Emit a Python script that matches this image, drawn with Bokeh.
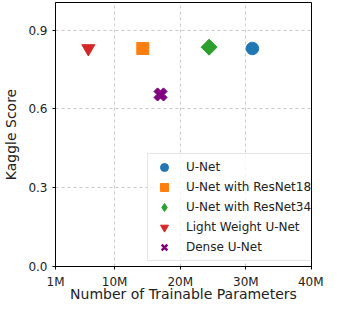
import math
from bokeh.plotting import figure
from bokeh.models import Range1d, FixedTicker, Legend, LegendItem, ColumnDataSource
from bokeh.embed import file_html
from bokeh.resources import INLINE

models = ["U-Net", "U-Net with ResNet18", "U-Net with ResNet34", "Light Weight U-Net", "Dense U-Net"]
params_m = [31.0, 14.3, 24.4, 6.0, 17.0]
scores = [0.83, 0.83, 0.835, 0.83, 0.655]
colors = ["#1f77b4", "#ff7f0e", "#2ca02c", "#d62728", "#800080"]

# markers in the plot area
markers = ["circle", "square", "square", "inverted_triangle", "plus"]
angles = [0, 0, math.pi / 4, 0, math.pi / 4]
sizes = [12.5, 12, 11.3, 13, 13.5]
# markers shown in the legend (legend ignores marker angles)
legend_markers = ["circle", "square", "diamond", "inverted_triangle", "x"]
legend_line_widths = [1, 1, 1, 1, 2.5]

x_ticks = [1, 10, 20, 30, 40]
x_tick_labels = ["1M", "10M", "20M", "30M", "40M"]
y_ticks = [0.0, 0.3, 0.6, 0.9]
y_tick_labels = ["0.0", "0.3", "0.6", "0.9"]

FONT = "DejaVu Sans"

p = figure(width=323, height=304, output_backend="svg", toolbar_location=None,
           x_range=Range1d(1, 40), y_range=Range1d(0, 1.005),
           min_border_left=54, min_border_right=12, min_border_top=2, min_border_bottom=30)
p.background_fill_color = "white"
p.border_fill_color = "white"
p.outline_line_color = "black"
p.outline_line_width = 1

p.xaxis.ticker = FixedTicker(ticks=x_ticks)
p.xaxis.major_label_overrides = {t: l for t, l in zip(x_ticks, x_tick_labels)}
p.yaxis.ticker = FixedTicker(ticks=y_ticks)
p.yaxis.major_label_overrides = {t: l for t, l in zip(y_ticks, y_tick_labels)}

for ax in (p.xaxis[0], p.yaxis[0]):
    ax.axis_line_color = "black"
    ax.major_tick_line_color = "black"
    ax.major_tick_out = 3
    ax.major_tick_in = 0
    ax.minor_tick_line_color = None
    ax.major_label_text_font = FONT
    ax.major_label_text_font_size = "12px"
    ax.major_label_text_color = "#222222"
    ax.axis_label_text_font = FONT
    ax.axis_label_text_font_size = "14px"
    ax.axis_label_text_font_style = "normal"
    ax.axis_label_text_color = "#222222"

p.xaxis.axis_label = "Number of Trainable Parameters"
p.yaxis.axis_label = "Kaggle Score"
p.xaxis.major_label_standoff = 5
p.xaxis.axis_label_standoff = -6
p.xaxis.axis_label_text_line_height = 1.0
p.xaxis.major_label_text_line_height = 1.0
p.yaxis.major_label_standoff = 5
p.yaxis.axis_label_standoff = 6

p.grid.grid_line_color = "#b0b0b0"
p.grid.grid_line_alpha = 0.7
p.grid.grid_line_dash = "3 3"
p.grid.grid_line_width = 1

items = []
for name, x, y, c, m, a, s, lm, lw in zip(models, params_m, scores, colors, markers,
                                          angles, sizes, legend_markers, legend_line_widths):
    src = ColumnDataSource(dict(x=[x], y=[y]))
    p.scatter("x", "y", source=src, marker=m, size=s, angle=a,
              fill_color=c, line_color=c)
    # legend-only renderer, its point lies outside the visible range
    lsrc = ColumnDataSource(dict(x=[x], y=[-1.0]))
    lr = p.scatter("x", "y", source=lsrc, marker=lm, size=8,
                   fill_color=c, line_color=c, line_width=lw)
    items.append(LegendItem(label=name, renderers=[lr]))

legend = Legend(items=items, location=(92, 5))
legend.label_text_font = FONT
legend.label_text_font_size = "12px"
legend.label_text_color = "#222222"
legend.glyph_width = 26
legend.glyph_height = 20
legend.label_height = 18
legend.spacing = -2
legend.padding = 3
legend.label_standoff = 9
legend.border_line_color = "#cccccc"
legend.border_line_width = 1
legend.background_fill_alpha = 0.8
p.add_layout(legend, "center")

open("out.html", "w").write(file_html(p, INLINE))
